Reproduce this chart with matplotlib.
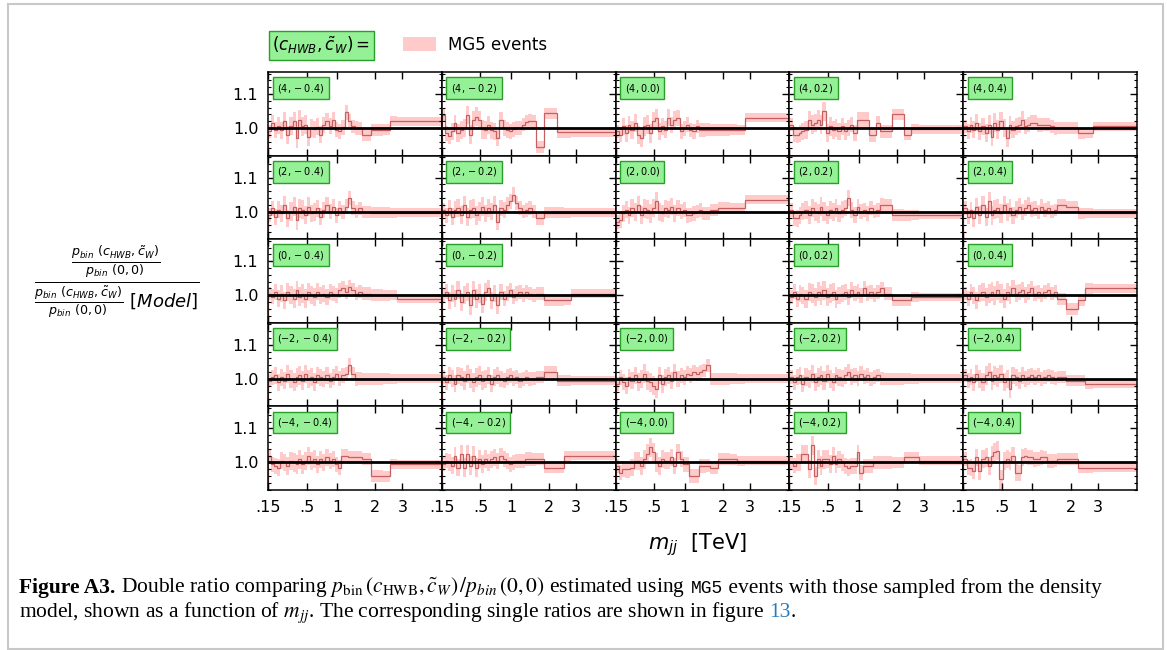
import numpy as np
import matplotlib.pyplot as plt
from matplotlib.patches import Patch, Rectangle
from matplotlib.offsetbox import TextArea, HPacker, VPacker, AnchoredOffsetbox

# grid of couplings
c_hwb = [4, 2, 0, -2, -4]
c_w = [-0.4, -0.2, 0.0, 0.2, 0.4]

# m_jj bin edges [TeV]
edges = np.array([0.15, 0.17, 0.19, 0.21, 0.23, 0.25, 0.28, 0.31, 0.34, 0.37, 0.40, 0.43,
                  0.47, 0.51, 0.55, 0.59, 0.63, 0.68, 0.73, 0.78, 0.84, 0.90, 0.96, 1.02,
                  1.09, 1.16, 1.24, 1.32, 1.40, 1.50, 1.60, 1.85, 2.25, 2.50, 2.80, 5.00])

# MG5 statistical half-width per bin [%]
err_pct = [2.0, 2.2, 2.4, 2.5, 2.5, 2.6, 2.6, 2.7, 2.7, 2.8, 2.8, 2.8, 2.7, 2.7, 2.6,
           2.6, 2.5, 2.5, 2.4, 2.4, 2.3, 2.3, 2.2, 2.2, 2.1, 2.1, 2.0, 2.0, 2.0, 1.9,
           1.8, 1.7, 1.6, 1.5, 1.3]

# double ratio - 1 [%], one list per (c_HWB, c_W) panel
r4_m04 = [-1, 1.6, -0.5, 0.7, -0.6, 2, -2, 0.7, 2, -3, 2.5, 0.5, 1, -2.5, 0, -0.4, 0.4, -2,
          1, 2, 0.7, 2.4, -0.5, -1, 0.2, 4.6, 2, 0.5, 0, 0, -1.9, -0.5, -0.5, 2, 2]
r4_m02 = [3.8, -1.5, -2.2, -1, 1.4, -1.5, -0.6, 0, 3.8, -2, 2.3, 3.3, 2.3, -0.4, -0.6, 0.9,
          -0.6, -0.9, -3, 2.4, 0, -0.6, -0.9, -0.4, 0.1, 0.1, 1, 1.7, 2, 2, -5.5, 4.3, -1.3,
          -1.3, -1.3]
r4_00 = [-1, -2, 0.5, -1.5, 1, -0.5, 1.5, -2, -3, 0.5, 1, -1.5, 2, 3, -1, 0.5, -0.5, 3, 1,
         2.5, 3, -1, 0, 1, -0.5, -1, 0.5, -0.5, -0.5, -0.5, -0.5, -0.5, -0.5, -0.5, 3]
r4_p02 = [1, -2, -2, -1.5, -1, -0.5, 2.5, 1, 1.5, 2.5, 1, 5, -1.5, 0.5, -0.5, 0, -1, 0.5, -1,
          0, 1, -1.5, 2.5, 2.5, 2.5, 2.5, -2, -2, 1.5, -1, -1, 4, -2, -0.3, -0.3]
r4_p04 = [0.5, -1, 1, -0.5, 1.5, -1, 0.5, -1.5, 1, -2.5, 1.5, -0.5, 2, 0, -3, 1, -0.5, 0.5,
          1, 2.5, 0.5, 1, 1.5, 1.5, 1, 1, 1, 1, 0.5, 0, 0, 0, -1.5, -1.5, 0.5]

r2_m04 = [-1, 1, -1.5, 0.5, -0.5, 2, -2, 0, 1.5, -2.5, 1, 0.5, -1, 1.5, -0.5, 0, 1, -1.5,
          0.5, 2, 0, 1.5, -1, 1, 0, 1.5, 4, 1, 0, 1, 0, -0.3, -0.3, -0.3, -0.3]
r2_m02 = [0.5, -1, 1, -1.5, 0.5, 1, -1, 2, -1.5, 0.5, 1, -1, 0, 1.5, -0.5, 1, 0, 2, -3, 1,
          0.5, 2, 3, 5, 2.5, 1, 0, 0.5, 1, 0, -2, -0.3, -0.3, -0.3, -0.3]
r2_00 = [-3, -2.5, -0.5, 0.5, -1, 1, 0, 2, -1, 1, 0.5, -0.5, 1, 3, 0, -0.5, 1, 0.5, 1.5,
         -0.5, 1, 0, 0.5, -1, -1, -0.5, 0, 0.5, -0.5, -0.5, 0.5, 1, 1, 1, 3.5]
r2_p02 = [0.5, -2, -2, -1, 0, 0.5, -1, 1, 0, -0.5, 1.5, 0, -1, 0.5, 0, 1, -0.5, 0.5, 1, 4,
          0.5, -1, 1.5, 0, 0.5, -0.5, 1, 0, 0.5, 2, 2, -1, -1, -1, -1]
r2_p04 = [1, -1.5, 0.5, -2, 1.5, -1, 2, -1.5, 3, -1, 0.5, 1, -0.5, 2, 0, 1, -1, 0.5, 1.5, 0,
          1, 2, 0.5, 1, 0, 1.5, 0.5, 1, 0, 0.5, 2, 1.5, -0.5, -0.5, -0.5]

r0_m04 = [0.5, -0.5, 1, -1, 0.5, -1.5, 1, 0, -1, 1.5, -0.5, 0.5, -1, 1, 0, -0.5, 1, 0, 0.5,
          -0.5, 1, 0.5, 0, 1.5, 2, 1, 2.5, 1.5, 0.5, 1, 0.5, 0, 0, 0, -1]
r0_m02 = [0, 1, -1.5, 0.5, -1, 1.5, -2, 0, 1, -3, 1.5, -1, 0.5, -2.5, 1, 2, -1.5, 0.5, -3, 1,
          -1, 0.5, 1.5, -0.5, 0.5, 1, 0, 1, 0.5, 0, 0.5, -1.5, -1.5, -1.5, 0.5]
r0_00 = None
r0_p02 = [-0.5, 1, -1, 0.5, 0, -1, 1, 0.5, -0.5, 1, 0, 1.5, -0.5, 0.5, 1, -1, 0, 0.5, 1, -0.5,
          1.5, 0.5, 1, 0, 2, 0.5, 1, 0, 1, 2, 0.5, -1.5, -1.5, -0.5, -0.5]
r0_p04 = [0.5, -1, 1, 0, -1.5, 0.5, 1, -0.5, 0.5, 1, 0, 1.5, 0.5, -1, 1, 0, 2, 0.5, 1, 1.5, 0,
          1, 2, 0.5, 1, 0, 1, 1.5, 0.5, 1, -1, -4, -1.5, 2, 2]

rm2_m04 = [-0.5, 0.5, 1, -1, 0.5, -0.5, 1.5, 0, -1, 0.5, 1, -0.5, 1.5, 0, 0.5, -1, 1, 0.5, 0,
           1, -0.5, 0.5, 1.5, 0, 1, 1.5, 4, 1.5, 0, 0, 0, 0, 0, 0, 0]
rm2_m02 = [0.5, -1, 1, 0, -1.5, 1, 0.5, -0.5, 1.5, 0, -1, 0.5, 1, -0.5, 0, 1, -1.5, 0.5, 1, 0,
           -0.5, 0.5, 1, 0, 0.5, -0.5, 0, 0.5, 0, 0, 0.5, 2, -0.5, -0.5, -0.5]
rm2_00 = [-1.5, 0.5, -1, -2, 0.5, -0.5, 1, -1, 0, 1.5, -0.5, -1, -2, -3, 1, -1.5, 0.5, 1, -0.5,
          2, 0, 1, 0.5, 1.5, 1, 2, 1.5, 2, 2.5, 4, 0, 0, 0, 0, 0]
rm2_p02 = [0.5, -1, 0.5, 1, -1.5, 0.5, 0, 1.5, -1, 0.5, 1, -0.5, 1.5, 0, -1, 1, 0.5, 0, 1, 2,
           0.5, 1, 0, 1.5, 0.5, 1, 0, 0.5, 1, 0, 0, 0, 0, 0, 0]
rm2_p04 = [1, -0.5, 0.5, -1, 1.5, 0, -1, 1, 2, -0.5, 1, 0.5, 1.5, -1, 0, -3, 1, 0.5, -0.5, 1,
           0, 0.5, 1, 0.5, 1, 0, 0.5, 1, 0.5, 0, 0.5, -0.5, -0.5, -1.5, -1.5]

rm4_m04 = [2, -0.5, -1, -1.5, 0.5, 0, -1, 0.5, 0, -0.5, 1, -0.5, 0.5, 2, 0.5, 1, -0.5, 1, 0,
           1.5, 0.5, 1, -0.5, -1.5, 2, 2, 1.5, 1.5, 1.5, 1.5, 1, -4, -4, -0.5, -0.5]
rm4_m02 = [-0.5, 0.5, 0, -1, 2, -1.5, 2.5, -1.5, 2.5, -1, 2, -1.5, 1, -0.5, 1, 0, 1, 1.5, 0.5,
           2, 1, 0.5, -0.5, 0, 0.5, 0.5, 0.5, 1, 1, 1, 1, -1.5, -1.5, 2, 2]
rm4_00 = [-1, -3, -2, -2, -2, -1.5, 0.5, 0.5, -1, 1, 2.5, 4.5, 3, 0, -1, 1, 0.5, 0.5, 1.5, -1,
          3, 1, -0.5, -0.5, -4, -4, -4, -1, -1, -1, -1.5, 1, 1, 0.5, 0.5]
rm4_p02 = [0, -1, 0, 0, 2.5, 2.5, -2, 5, -4, 1, -1, 1, 1, -0.5, 2, -0.5, 1, 0, -1, -1.5, -1,
           -1, 3, -3, -1, -1, -1, 0, 0, 0, 0, 0, 1.5, 1.5, 0.5]
rm4_p04 = [1, -1.5, -1.5, -2.5, 1.5, -2.5, 1, 1.5, -1, 2, 3, 3.5, -5, 0.5, 1, 0.5, 2, -3, -3,
           1.5, 2, 1.5, 1.5, 1, 1, 1.5, 1.5, 0.5, 0.5, 0.5, 1, 1, -1.5, -1.5, -1.5]

panels = [[r4_m04, r4_m02, r4_00, r4_p02, r4_p04],
          [r2_m04, r2_m02, r2_00, r2_p02, r2_p04],
          [r0_m04, r0_m02, r0_00, r0_p02, r0_p04],
          [rm2_m04, rm2_m02, rm2_00, rm2_p02, rm2_p04],
          [rm4_m04, rm4_m02, rm4_00, rm4_p02, rm4_p04]]

xticks = [0.15, 0.5, 1, 2, 3]
xticklabels = ['.15', '.5', '1', '2', '3']

W, H = 1167, 650
fig = plt.figure(figsize=(W / 100, H / 100), dpi=100)
gs = fig.add_gridspec(5, 5, left=268 / W, right=1137 / W, top=1 - 72 / H, bottom=1 - 490 / H,
                      wspace=0, hspace=0)

err = np.array(err_pct) / 100
for r, hwb in enumerate(c_hwb):
    for c, cw in enumerate(c_w):
        ax = fig.add_subplot(gs[r, c])
        ax.set_xscale('function', functions=(np.cbrt, lambda v: v ** 3))
        vals = panels[r][c]
        if vals is not None:
            y = 1 + np.array(vals) / 100
            ax.stairs(y + err, edges, baseline=y - err, fill=True, color='#ffcaca', lw=0)
            ax.stairs(y, edges, color='#c46060', lw=0.9)
            ax.axhline(1.0, color='black', lw=2)
            ax.text(0.052, 0.885, f'$({hwb},{cw:.1f})$', transform=ax.transAxes, fontsize=7,
                    va='top', ha='left',
                    bbox=dict(boxstyle='square,pad=0.45', fc='#95f195', ec='#2a9d2a', lw=1))
        ax.set_xlim(0.15, 5.0)
        ax.set_ylim(0.919, 1.165)
        ax.set_xticks(xticks)
        ax.set_yticks([1.0, 1.1])
        ax.set_yticks(np.arange(0.92, 1.17, 0.02), minor=True)
        ax.xaxis.set_minor_locator(plt.NullLocator())
        if r == 4:
            ax.set_xticklabels(xticklabels)
        else:
            ax.set_xticklabels([])
        if c == 0:
            ax.set_yticklabels(['1.0', '1.1'])
        else:
            ax.set_yticklabels([])
        ax.tick_params(which='both', direction='in', top=True, right=True, labelsize=11.5)
        ax.tick_params(which='major', length=5, width=1, pad=7)
        ax.tick_params(which='minor', length=2.5, width=0.8)
        for s in ax.spines.values():
            s.set_linewidth(1.1)

# header: coupling label and legend
fig.text(321.5 / W, 1 - 45.5 / H, r'$(c_{HWB},\tilde{c}_W) =$', ha='center', va='center',
         fontsize=12,
         bbox=dict(boxstyle='square,pad=0.22', fc='#95f195', ec='#2a9d2a', lw=1))
fig.legend(handles=[Patch(facecolor='#ffcaca', label='MG5 events')], loc='center left',
           bbox_to_anchor=(388 / W, 1 - 45 / H), frameon=False, fontsize=12,
           handlelength=2.0, handleheight=0.9, handletextpad=0.7)

fig.text(117 / W, 1 - 282 / H,
         r'$\frac{\frac{p_{bin}\ (c_{HWB},\tilde{c}_W)}{p_{bin}\ (0,0)}}'
         r'{\frac{p_{bin}\ (c_{HWB},\tilde{c}_W)}{p_{bin}\ (0,0)}\ [Model]}$',
         ha='center', va='center', fontsize=18.5)
fig.text(697 / W, 1 - 545 / H, r'$m_{jj}$  [TeV]', ha='center', va='center', fontsize=15)

# caption
cap = dict(fontsize=15.5, family='Liberation Serif', math_fontfamily='stix')
line1 = HPacker(children=[
    TextArea('Figure A3.', textprops=dict(cap, weight='bold')),
    TextArea(r'Double ratio comparing $p_{\rm bin}\,(c_{\rm HWB},\tilde{c}_W)\,/p_{bin}\,(0,0)$'
             ' estimated using', textprops=cap),
    HPacker(children=[
        TextArea('MG5', textprops=dict(cap, family='Liberation Mono', fontsize=13)),
        TextArea(' events with those sampled from the density', textprops=cap)],
        align='baseline', pad=0, sep=0)],
    align='baseline', pad=0, sep=4)
line2 = HPacker(children=[
    HPacker(children=[
        TextArea(r'model, shown as a function of $m_{jj}$. The corresponding single ratios are '
                 'shown in figure', textprops=cap),
        TextArea('13', textprops=dict(cap, color='#2a7ab8'))],
        align='baseline', pad=0, sep=4),
    TextArea('.', textprops=cap)],
    align='baseline', pad=0, sep=0)
caption = VPacker(children=[line1, line2], align='left', pad=0, sep=0)
fig.add_artist(AnchoredOffsetbox(loc='upper left', child=caption, pad=0, borderpad=0,
                                 frameon=False, bbox_to_anchor=(19 / W, 1 - 576 / H),
                                 bbox_transform=fig.transFigure))

# frame around the figure
fig.add_artist(Rectangle((7.5 / W, 1 - 648.5 / H), 1155.5 / W, 644.5 / H,
                         transform=fig.transFigure, fill=False, ec='#c8c8c8', lw=1.5))

fig.savefig('out.png', dpi=100)
